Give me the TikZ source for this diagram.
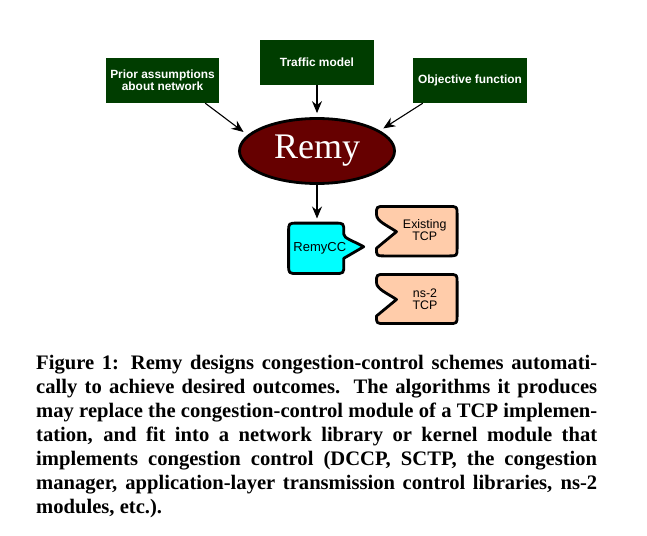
\documentclass[tikz,border=0pt]{standalone}
\usepackage{fontspec}
\setmainfont{Liberation Serif}
\newfontfamily\arialfont{Liberation Sans}
\usetikzlibrary{arrows.meta,shapes.geometric}
\pgfdeclarelayer{background}
\pgfsetlayers{background,main}
\definecolor{boxgreen}{RGB}{0,61,0}
\definecolor{remyred}{RGB}{102,0,0}
\definecolor{ccyan}{RGB}{0,255,255}
\definecolor{peach}{RGB}{255,204,170}
\begin{document}
\begin{tikzpicture}[x=1pt,y=-1pt,
  inputbox/.style={fill=boxgreen, text=white, font=\arialfont\bfseries\fontsize{11.9}{11.7}\selectfont,
    minimum width=114pt, minimum height=45pt, inner sep=0pt, align=center},
  arr/.style={-{Stealth[length=12pt,width=10pt,inset=4pt]}, line width=1.1pt},
  outline/.style={line width=2.8pt, line join=round},
  plaintext/.style={inner sep=0pt, font=\arialfont\fontsize{12.4}{11.8}\selectfont, align=center}
]
\useasboundingbox (0,0) rectangle (647,535);

% input boxes
\node[inputbox, minimum width=113pt] (prior) at (162.5,80.5) {Prior assumptions\\about network};
\node[inputbox] (traffic) at (317,62.5) {Traffic model};
\node[inputbox] (objective) at (470,80.5) {Objective function};

% Remy
\node[ellipse, draw, line width=2.8pt, fill=remyred, text=white, minimum width=155pt,
  minimum height=65pt, inner sep=0pt, font=\fontsize{36}{36}\selectfont] (remy) at (317,151) {Remy};

% RemyCC and TCP modules
\node[plaintext, font=\arialfont\fontsize{13}{13}\selectfont, minimum height=49.6pt] (remycc) at (319.8,248) {RemyCC};
\node[plaintext] (existing) at (424.7,230.3) {Existing\\TCP};
\node[plaintext] (nstwo) at (425,298.9) {ns-2\\TCP};

\begin{pgfonlayer}{background}
  \fill[white] (0,0) rectangle (647,535);
  \begin{scope}[shift={(remycc.center)}, shift={(-3.6,0.3)}]
    \draw[outline, fill=ccyan] (27.6,-14) -- (27.6,-16.2) .. controls (27.6,-25.2) .. (18.6,-25.2)
      -- (-18.6,-25.2) .. controls (-27.6,-25.2) .. (-27.6,-16.2)
      -- (-27.6,16.2) .. controls (-27.6,25.2) .. (-18.6,25.2)
      -- (18.6,25.2) .. controls (27.6,25.2) .. (27.6,16.2)
      -- (27.6,10) -- (47.5,-1.6)
      .. controls (37,-7.5) and (27.6,-10) .. (27.6,-14) -- cycle;
  \end{scope}
  \begin{scope}[shift={(existing.center)}, shift={(-7.9,0.9)}]
    \draw[outline, fill=peach] (-40.3,-16.7) .. controls (-40.3,-24.7) .. (-32.3,-24.7)
      -- (32.3,-24.7) .. controls (40.3,-24.7) .. (40.3,-16.7)
      -- (40.3,16.7) .. controls (40.3,24.7) .. (32.3,24.7)
      -- (-32.3,24.7) .. controls (-40.3,24.7) .. (-40.3,17)
      -- (-20.3,0.5) .. controls (-30,-6) and (-40.3,-10) .. (-40.3,-16.7) -- cycle;
  \end{scope}
  \begin{scope}[shift={(nstwo.center)}, shift={(-8.2,0.1)}]
    \draw[outline, fill=peach] (-40.3,-16.5) .. controls (-40.3,-24.5) .. (-32.3,-24.5)
      -- (32.3,-24.5) .. controls (40.3,-24.5) .. (40.3,-16.5)
      -- (40.3,16.5) .. controls (40.3,24.5) .. (32.3,24.5)
      -- (-32.3,24.5) .. controls (-40.3,24.5) .. (-40.3,17)
      -- (-20.3,0.5) .. controls (-30,-6) and (-40.3,-10) .. (-40.3,-16.5) -- cycle;
  \end{scope}
\end{pgfonlayer}

% connectors
\draw[arr, shorten >=5pt] ([xshift=-14pt]prior.south east) -- (remy.167.6);
\draw[arr, shorten >=4pt] (traffic.south) -- (remy.north);
\draw[arr, shorten >=4pt] ([xshift=10pt]objective.south west) -- (remy.18.4);
\draw[arr, shorten >=4.5pt] (remy.south) -- (remy.south |- remycc.north);

% caption
\node[anchor=base west, inner sep=0pt, font=\bfseries\fontsize{20.6}{24}\selectfont] (caption) at (36,369)
{\vtop{%
\hbox to 561pt{Figure 1: Remy designs congestion-control schemes automati-}%
\hbox to 561pt{cally to achieve desired outcomes. The algorithms it produces}%
\hbox to 561pt{may replace the congestion-control module of a TCP implemen-}%
\hbox to 561pt{tation, and fit into a network library or kernel module that}%
\hbox to 561pt{implements congestion control (DCCP, SCTP, the congestion}%
\hbox to 561pt{manager, application-layer transmission control libraries, ns-2}%
\hbox{modules, etc.).}}};
\end{tikzpicture}
\end{document}
